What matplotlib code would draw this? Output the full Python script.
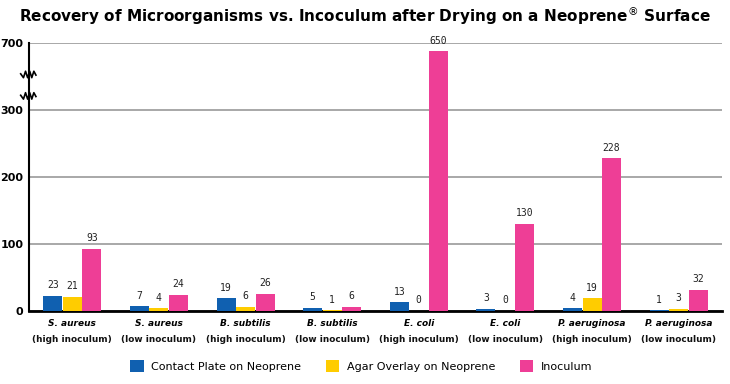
import numpy as np
import matplotlib
matplotlib.use("Agg")
import matplotlib.pyplot as plt
from matplotlib.patches import Patch
import matplotlib.transforms as mtransforms

species = ["S. aureus", "S. aureus", "B. subtilis", "B. subtilis", "E. coli", "E. coli",
           "P. aeruginosa", "P. aeruginosa"]
inoculum_level = ["(high inoculum)", "(low inoculum)", "(high inoculum)", "(low inoculum)",
                  "(high inoculum)", "(low inoculum)", "(high inoculum)", "(low inoculum)"]
contact_plate = [23, 7, 19, 5, 13, 3, 4, 1]
agar_overlay = [21, 4, 6, 1, 0, 0, 19, 3]
inoculum = [93, 24, 26, 6, 650, 130, 228, 32]
series_names = ["Contact Plate on Neoprene", "Agar Overlay on Neoprene", "Inoculum"]
y_ticks = [0, 100, 200, 300, 700]

colors = ["#1060b0", "#ffcc00", "#ee3e96"]

BREAK = 300.0
FACTOR = 4.0


def fwd(y):
    y = np.asarray(y, dtype=float)
    return np.where(y <= BREAK, y, BREAK + (y - BREAK) / FACTOR)


def inv(y):
    y = np.asarray(y, dtype=float)
    return np.where(y <= BREAK, y, BREAK + (y - BREAK) * FACTOR)


fig = plt.figure(figsize=(7.30, 3.84), dpi=100)
ax = fig.add_axes([29 / 730, 1 - 311 / 384, 693 / 730, 268 / 384])
ax.set_yscale("function", functions=(fwd, inv))
ax.set_ylim(0, 700)
ax.set_xlim(-0.5, len(species) - 0.5)

x = np.arange(len(species))
w = 0.225
series = [contact_plate, agar_overlay, inoculum]
for i, (vals, c) in enumerate(zip(series, colors)):
    xs = x + (i - 1) * w
    ax.bar(xs, vals, width=w * 0.97, color=c, zorder=3)
    for xx, v in zip(xs, vals):
        ax.annotate(str(v), (xx, v), xytext=(0, 4), textcoords="offset points",
                    ha="center", va="bottom", fontsize=7, color="#222222",
                    family="DejaVu Sans Mono")

ax.set_yticks(y_ticks)
ax.set_yticklabels([str(t) for t in y_ticks], fontsize=8, fontweight="bold")
ax.yaxis.set_minor_locator(matplotlib.ticker.NullLocator())
ax.tick_params(axis="y", length=0, pad=4)
ax.set_xticks([])
ax.grid(axis="y", color="#999999", linewidth=1.2, zorder=0)
for s in ["top", "right"]:
    ax.spines[s].set_visible(False)
ax.spines["left"].set_linewidth(1.5)
ax.spines["bottom"].set_linewidth(2)

# axis break marks
trans = mtransforms.blended_transform_factory(ax.transAxes, ax.transAxes)
for yb in [0.885, 0.805]:
    zx = np.array([-0.012, -0.008, -0.005, -0.002, 0.001, 0.004, 0.007, 0.010])
    zy = yb + np.array([0.0, -0.018, 0.012, -0.018, 0.012, -0.018, 0.012, -0.006]) * 0.8
    ax.plot(zx, zy, color="black", lw=1.2, transform=trans, clip_on=False, zorder=5)

# category labels
tr = mtransforms.blended_transform_factory(ax.transData, ax.transAxes)
for xi, sp, lv in zip(x, species, inoculum_level):
    ax.text(xi, -0.03, sp, transform=tr, ha="center", va="top", fontsize=6.5,
            fontweight="bold", fontstyle="italic")
    ax.text(xi, -0.088, lv, transform=tr, ha="center", va="top", fontsize=6.4,
            fontweight="bold", color="#111111")

fig.text(0.5, 1 - 16 / 384, "Recovery of Microorganisms vs. Incoculum after Drying on a Neoprene$^{®}$ Surface",
         ha="center", va="center", fontsize=11, fontweight="bold")

handles = [Patch(facecolor=c) for c in colors]
fig.legend(handles, series_names, loc="center", bbox_to_anchor=(0.495, 1 - 366 / 384),
           ncol=3, frameon=False, fontsize=8, handlelength=1.2, handleheight=1.3,
           columnspacing=2.2, handletextpad=0.7)

fig.savefig("out.png", dpi=100)
